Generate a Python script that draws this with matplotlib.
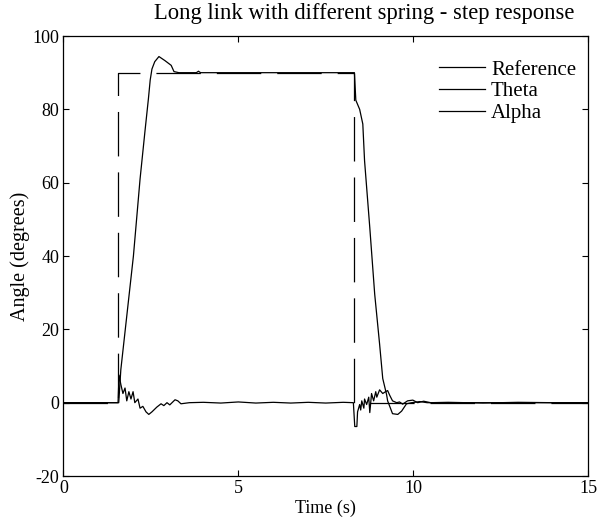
import matplotlib
matplotlib.use("Agg")
import matplotlib.pyplot as plt
from matplotlib.lines import Line2D

plt.rcParams['font.family'] = ['Liberation Serif', 'DejaVu Serif']
plt.rcParams['lines.scale_dashes'] = False
plt.rcParams['axes.unicode_minus'] = False

title = "Long link with different spring - step response"
xlabel = "Time (s)"
ylabel = "Angle (degrees)"
series_names = ["Reference", "Theta", "Alpha"]
xticks = [0, 5, 10, 15]
yticks = [-20, 0, 20, 40, 60, 80, 100]

ref_t = [0, 1.56, 1.56, 8.30, 8.30, 15]
ref_v = [0, 0, 90, 90, 0, 0]

theta_t = [0, 1.58, 1.64, 2.0, 2.19, 2.33, 2.43, 2.48, 2.53, 2.61, 2.73, 2.9, 3.08, 3.16, 3.3,
           3.8, 3.86, 3.92, 4.0, 6.0, 8.32, 8.36, 8.47, 8.56, 8.61, 8.76, 8.90, 9.04, 9.13,
           9.24, 9.27, 9.33, 9.41, 9.56, 9.67, 9.81, 9.96, 10.19, 10.4, 15]
theta_v = [0, 0, 9, 40, 61, 74, 83, 88, 91, 93, 94.4, 93.3, 92, 90.3, 90,
           90, 90.4, 90, 90, 90, 90, 82.5, 80, 76, 66, 47.7, 29.6, 16, 6.6,
           2.2, 0.5, -1, -3, -3.2, -2.3, -0.3, 0, 0.3, 0, 0]

alpha_t = [0, 1.56, 1.59, 1.64, 1.70, 1.76, 1.81, 1.87, 1.93, 1.99, 2.04, 2.13, 2.19, 2.27,
           2.36, 2.44, 2.53, 2.67, 2.79, 2.87, 2.96, 3.04, 3.19, 3.27, 3.36, 3.6, 4.0, 4.5,
           5.0, 5.5, 6.0, 6.5, 7.0, 7.5, 8.0, 8.29, 8.33, 8.39, 8.41, 8.47, 8.50, 8.53,
           8.59, 8.61, 8.67, 8.73, 8.76, 8.81, 8.87, 8.93, 8.96, 9.04, 9.13, 9.21, 9.27,
           9.33, 9.41, 9.53, 9.61, 9.70, 9.84, 9.99, 10.13, 10.3, 10.5, 11.0, 12.0, 13.0,
           14.0, 15]
alpha_v = [0, 0, 7.5, 5, 2.5, 4, 0.5, 3, 1, 3, 0, 1, -1.5, -1,
           -2.5, -3.2, -2.5, -1.2, -0.3, -0.8, 0, -0.6, 0.8, 0.5, -0.3, 0, 0.1, -0.1,
           0.2, -0.1, 0.1, -0.1, 0.1, -0.1, 0.1, 0, -6.5, -6.5, -2.5, -0.5, -2, 0.5,
           -1.5, 1, -0.5, 1.5, -2.7, 2.5, 0.5, 3, 1.5, 3.5, 2.5, 3, 3.3,
           2, 0.5, 0, 0.2, -0.4, 0.5, 0.7, 0, 0.4, 0, 0.1, -0.1, 0.1,
           0, 0]

fig = plt.figure(figsize=(6, 5.25), dpi=100)
ax = fig.add_axes([0.1058, 0.0933, 0.98 - 0.1058, 0.9314 - 0.0933])

lw = 0.9
ax.plot(ref_t, ref_v, color='black', lw=lw, dashes=(32, 11.5))
ax.plot(theta_t, theta_v, color='black', lw=lw)
ax.plot(alpha_t, alpha_v, color='black', lw=lw)

ax.set_xlim(0, 15)
ax.set_ylim(-20, 100)
ax.set_xticks(xticks)
ax.set_yticks(yticks)
ax.tick_params(direction='in', top=True, right=True, length=4, width=0.8,
               labelsize=13, pad=3)
for s in ax.spines.values():
    s.set_linewidth(0.9)

ax.set_xlabel(xlabel, fontsize=13, labelpad=2)
ax.set_ylabel(ylabel, fontsize=14.5, labelpad=2)
fig.text(364 / 600, 1 - 13 / 525, title, ha='center', va='center', fontsize=16.3)

handles = [Line2D([], [], color='black', lw=lw) for _ in series_names]
ax.legend(handles, series_names, loc='upper left', frameon=False,
          bbox_to_anchor=(439 / 600, 1 - 60 / 525), bbox_transform=fig.transFigure,
          borderpad=0, borderaxespad=0, handlelength=2.2, handletextpad=0.3,
          labelspacing=0.1, fontsize=15)

fig.savefig("out.png", dpi=100)
